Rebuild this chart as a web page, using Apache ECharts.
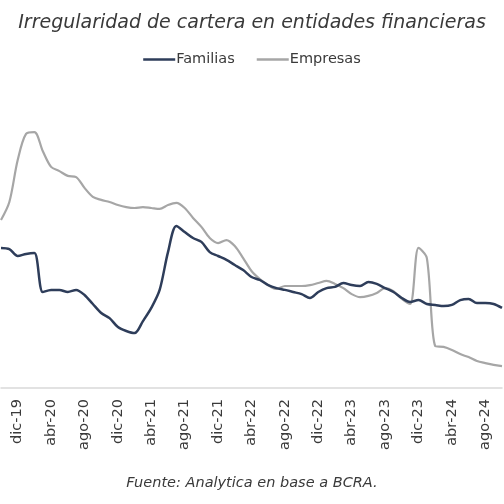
<!DOCTYPE html>
<html>
<head>
<meta charset="utf-8">
<script src="https://cdn.jsdelivr.net/npm/echarts@6/dist/echarts.min.js"></script>
<style>
html,body{margin:0;padding:0;background:#fff;}
#c{width:504px;height:504px;}
</style>
</head>
<body>
<div id="c"></div>
<script>
const months = [
  "oct-19","nov-19","dic-19",
  "ene-20","feb-20","mar-20","abr-20","may-20","jun-20","jul-20","ago-20","sep-20","oct-20","nov-20","dic-20",
  "ene-21","feb-21","mar-21","abr-21","may-21","jun-21","jul-21","ago-21","sep-21","oct-21","nov-21","dic-21",
  "ene-22","feb-22","mar-22","abr-22","may-22","jun-22","jul-22","ago-22","sep-22","oct-22","nov-22","dic-22",
  "ene-23","feb-23","mar-23","abr-23","may-23","jun-23","jul-23","ago-23","sep-23","oct-23","nov-23","dic-23",
  "ene-24","feb-24","mar-24","abr-24","may-24","jun-24","jul-24","ago-24","sep-24","oct-24"
];
const familias = [
  4.67,4.63,4.40,4.47,4.50,3.20,3.27,3.27,3.20,3.27,
  3.10,2.80,2.50,2.33,2.03,1.90,1.83,2.23,2.67,3.27,
  4.53,5.40,5.20,5.00,4.87,4.53,4.40,4.27,4.10,3.93,
  3.70,3.60,3.43,3.33,3.27,3.20,3.13,3.00,3.20,3.33,
  3.37,3.50,3.43,3.40,3.53,3.47,3.33,3.20,3.00,2.87,
  2.93,2.80,2.77,2.73,2.77,2.93,2.97,2.83,2.83,2.80,
  2.67
];
const empresas = [
  5.60,6.20,7.60,8.47,8.53,7.90,7.37,7.23,7.07,7.03,
  6.67,6.37,6.27,6.20,6.10,6.03,6.00,6.03,6.00,5.97,
  6.10,6.17,6.00,5.67,5.37,5.00,4.83,4.93,4.73,4.33,
  3.90,3.63,3.43,3.30,3.40,3.40,3.40,3.43,3.50,3.57,
  3.47,3.33,3.13,3.03,3.07,3.17,3.33,3.23,2.97,2.80,
  4.67,4.33,1.40,1.37,1.27,1.13,1.03,0.90,0.83,0.77,
  0.73
];
const titleText = "Irregularidad de cartera en entidades financieras";
const sourceText = "Fuente: Analytica en base a BCRA.";
const seriesNames = ["Familias","Empresas"];

const chart = echarts.init(document.getElementById('c'), null, {renderer:'canvas'});
chart.setOption({
  animation:false,
  backgroundColor:'#ffffff',
  title:[
    {text:titleText,left:'center',top:9,
     textStyle:{fontFamily:'DejaVu Sans',fontStyle:'italic',fontWeight:'normal',fontSize:19,color:'#3a3a3a'}},
    {text:sourceText,left:'center',top:471,
     textStyle:{fontFamily:'DejaVu Sans',fontStyle:'italic',fontWeight:'normal',fontSize:14.5,color:'#3a3a3a'}}
  ],
  legend:{
    top:47,left:'center',icon:'rect',itemWidth:32,itemHeight:2.5,itemGap:22,
    textStyle:{fontFamily:'DejaVu Sans',fontSize:14.5,color:'#3a3a3a',padding:[0,0,0,-4]},
    data:seriesNames
  },
  grid:{left:1,right:2,top:88,bottom:116,containLabel:false},
  xAxis:{
    type:'category',boundaryGap:false,data:months,
    axisLine:{lineStyle:{color:'#d9d9d9',width:1.5}},
    axisTick:{show:false},
    axisLabel:{rotate:90,margin:11,interval:function(i){return i%4===2;},
      fontFamily:'DejaVu Sans',fontSize:14.5,color:'#3a3a3a'},
    splitLine:{show:false}
  },
  yAxis:{type:'value',min:0,max:10,show:false,splitLine:{show:false}},
  series:[
    {name:seriesNames[0],type:'line',data:familias,smooth:0.3,symbol:'none',
     lineStyle:{color:'#2e3d5a',width:2.5},itemStyle:{color:'#2e3d5a'},z:3},
    {name:seriesNames[1],type:'line',data:empresas,smooth:0.3,symbol:'none',
     lineStyle:{color:'#a6a6a6',width:2.2},itemStyle:{color:'#a6a6a6'},z:2}
  ]
});
</script>
</body>
</html>
